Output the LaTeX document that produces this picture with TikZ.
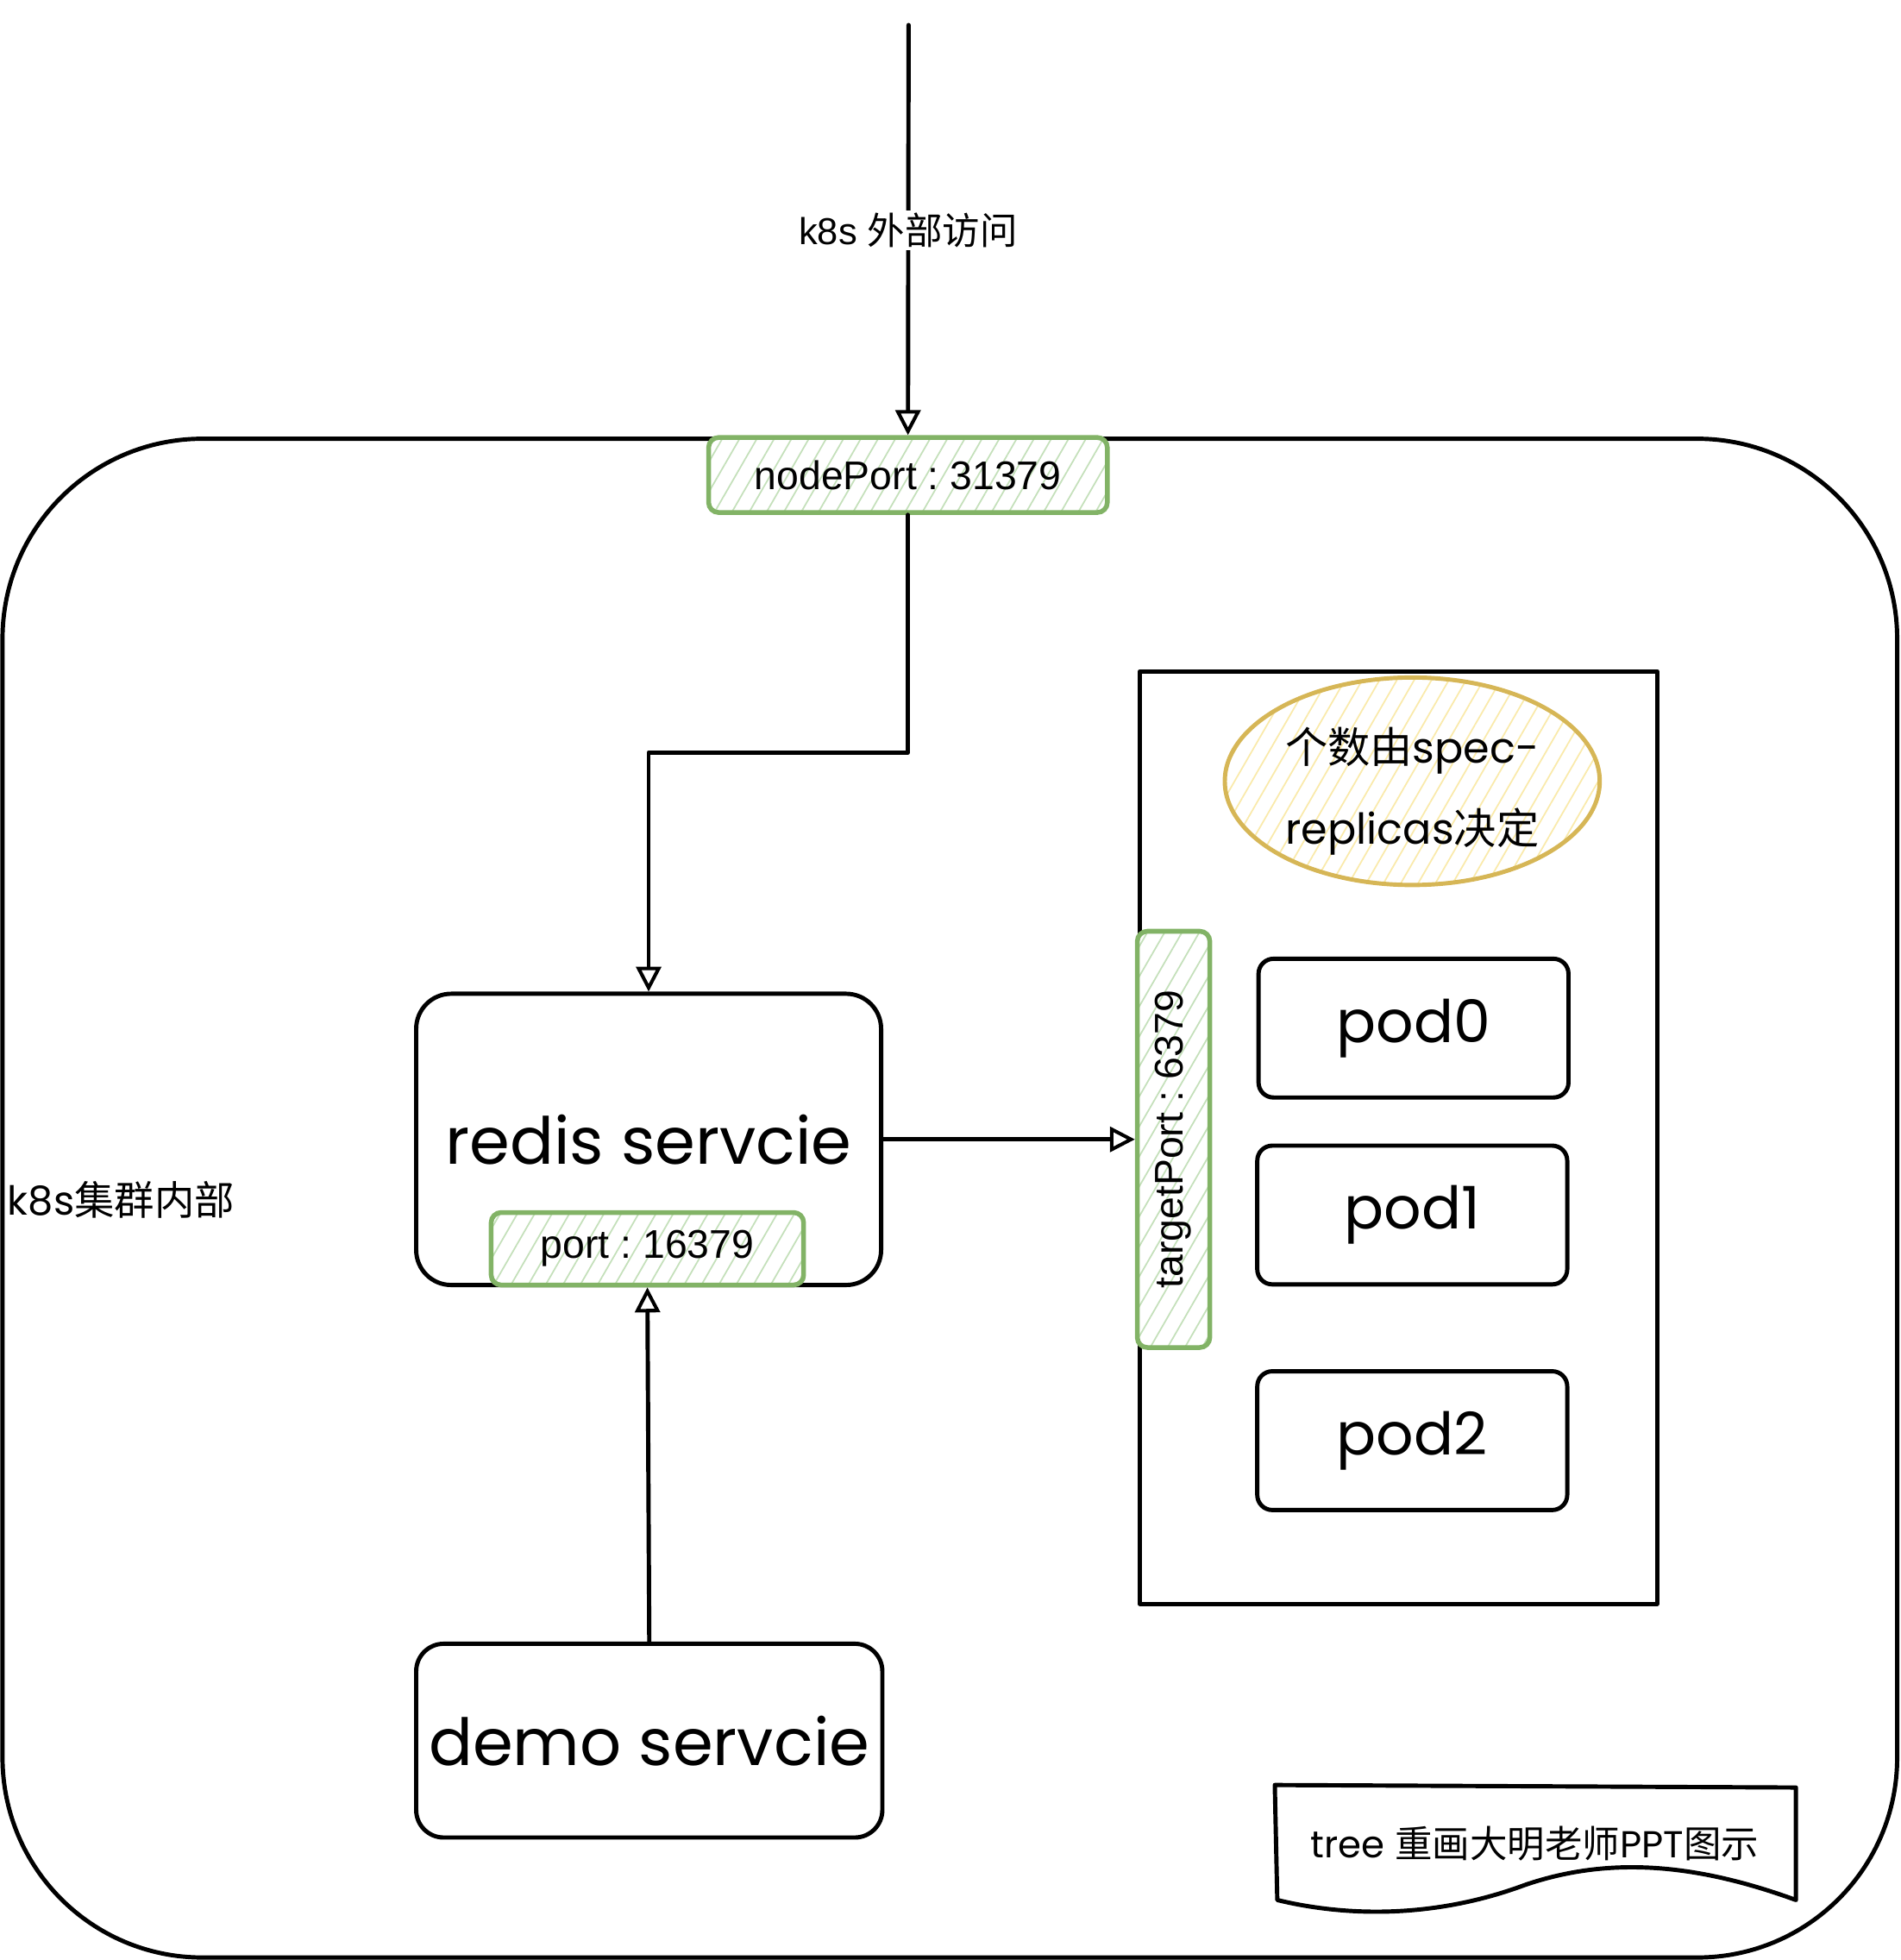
\documentclass[tikz,border=0pt]{standalone}
\usepackage{fontspec}
\setmainfont{Liberation Sans}
\newfontfamily\cjk{Noto Sans CJK SC}
\newfontfamily\hand{Poppins}
\frenchspacing
\usetikzlibrary{positioning,shapes.geometric,arrows.meta,patterns.meta}
\definecolor{portStroke}{RGB}{130,179,102}
\definecolor{portHatch}{RGB}{196,224,186}
\definecolor{noteStroke}{RGB}{214,182,86}
\definecolor{noteHatch}{RGB}{250,234,170}
\tikzstyle{sketchLine} = [line width=3.4pt, line join=round, line cap=round]
\tikzstyle{portBox} = [draw=portStroke, line width=3.8pt, rounded corners=8pt, preaction={fill=white}, pattern={Lines[angle=60,distance=12pt,line width=1.2pt]}, pattern color=portHatch, inner sep=0pt, font=\fontsize{32}{38}\selectfont]
\tikzstyle{serviceBox} = [draw, sketchLine, fill=white, rounded corners=28pt, inner sep=0pt, font=\hand\fontsize{52}{58}\selectfont]
\tikzstyle{podBox} = [draw, sketchLine, rounded corners=12pt, minimum width=248pt, minimum height=111pt, inner sep=0pt, font=\hand\fontsize{47}{52}\selectfont]
\tikzstyle{flowArrow} = [sketchLine, -{Triangle[open, length=20pt, width=20pt, line width=2.8pt]}]
\newcommand{\podNode}[3]{\node [podBox] (pod#1) at (#2,#3) {pod#1};}

\begin{document}
\begin{tikzpicture}[x=1pt, y=-1pt]
  \useasboundingbox (0,0) rectangle (1521,1568);
  \draw [sketchLine, rounded corners=160pt] (2,351) rectangle (1518,1566);
  \node [anchor=west, inner sep=0pt, font=\hand\fontsize{32}{38}\selectfont] (clusterLabel) at (6,960) {k8s{\cjk 集群内部}};

  \node [draw, sketchLine, minimum width=414pt, minimum height=746pt] (podGroup) at (1119,910) {};
  \node [ellipse, draw=noteStroke, line width=3.4pt, preaction={fill=white}, pattern={Lines[angle=60,distance=12pt,line width=1.2pt]}, pattern color=noteHatch, minimum width=300pt, minimum height=166pt] (replicaNote) at (1130,625) {};
  \node [align=center, inner sep=0pt, font=\hand\fontsize{34}{65}\selectfont] (replicaText) at (1130,633) {{\cjk 个数由}spec-\\replicas{\cjk 决定}};
  \node [portBox, rotate=90, minimum width=333pt, minimum height=58pt] (targetPort) at (939,911.5) {targetPort : 6379};
  \podNode{0}{1131}{822.5}
  \podNode{1}{1130}{972}
  \podNode{2}{1130}{1152.5}

  \node [serviceBox, minimum width=372pt, minimum height=233pt] (redis) at (519,911.5) {redis servcie};
  \node [portBox, minimum width=250pt, minimum height=58pt] (port) at (518,999) {port : 16379};
  \node [serviceBox, rounded corners=22pt, minimum width=373pt, minimum height=155pt] (demo) at (519.5,1392.5) {demo servcie};
  \node [portBox, minimum width=319pt, minimum height=60pt] (nodePort) at (726.5,380) {nodePort : 31379};

  \coordinate (outside) at (727,20);
  \draw [flowArrow] (outside) -- node [fill=white, inner sep=2pt, font=\fontsize{30}{36}\selectfont] (outsideLabel) {k8s {\cjk 外部访问}} (nodePort.north);
  \draw [flowArrow] (nodePort.south) -- ++(0,190) -| (redis.north);
  \draw [flowArrow] (demo.north) -- (port.south);
  \draw [flowArrow] (redis.east) -- (targetPort.north);

  \draw [sketchLine] (1020,1428) -- (1437,1430) -- (1437,1520) .. controls (1360,1492) and (1290,1484) .. (1220,1508) .. controls (1150,1534) and (1080,1534) .. (1022,1520) -- cycle;
  \node [font=\hand\fontsize{30}{36}\selectfont] (credit) at (1228,1475) {tree {\cjk 重画大明老师}PPT{\cjk 图示}};
\end{tikzpicture}
\end{document}
